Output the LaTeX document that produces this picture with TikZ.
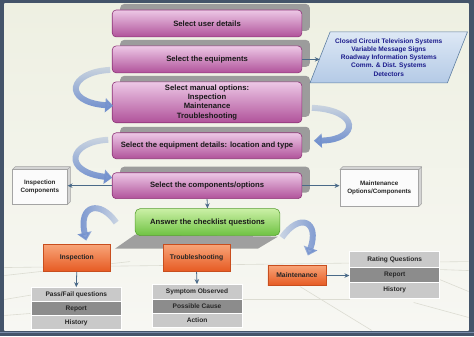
\documentclass[tikz,border=0pt]{standalone}
\usepackage{fontspec}
\setmainfont{Liberation Sans}
\usetikzlibrary{arrows.meta,shapes.geometric,shadows,fadings}
\definecolor{framec}{HTML}{44546A}
\definecolor{bandc}{HTML}{7A8CAA}
\definecolor{bgtop}{HTML}{EEF0E2}
\definecolor{bgbot}{HTML}{F7F7F3}
\definecolor{floorc}{HTML}{DCDCD2}
\definecolor{ptop}{HTML}{EDC8E6}
\definecolor{pmid}{HTML}{D58AC6}
\definecolor{pbot}{HTML}{B0529A}
\definecolor{pborder}{HTML}{8E3478}
\definecolor{tabgray}{HTML}{9C9C9C}
\definecolor{gtop}{HTML}{CBF0A6}
\definecolor{gbot}{HTML}{6EC242}
\definecolor{gborder}{HTML}{5AA034}
\definecolor{otop}{HTML}{F8A478}
\definecolor{obot}{HTML}{E65A22}
\definecolor{oborder}{HTML}{C84E1E}
\definecolor{rowlight}{HTML}{C9C9C9}
\definecolor{rowdark}{HTML}{8C8C8C}
\definecolor{arrowc}{HTML}{4A6A88}
\definecolor{curvec}{HTML}{7391CE}
\definecolor{partop}{HTML}{DDE8F5}
\definecolor{parbot}{HTML}{B4CAE6}
\definecolor{parborder}{HTML}{5F7FA2}
\definecolor{partext}{HTML}{1C1C8C}
\definecolor{boxside}{HTML}{D4D4D4}
\definecolor{boxborder}{HTML}{A4A4A4}
\tikzfading[name=fadetop, top color=transparent!70, bottom color=transparent!0]
\tikzfading[name=faderight, right color=transparent!70, left color=transparent!0]
\tikzfading[name=fadeleft, left color=transparent!70, right color=transparent!0]
\begin{document}
\begin{tikzpicture}[x=1pt,y=-1pt,
  purplebox/.style={draw=pborder, line width=0.6pt, rounded corners=4pt,
    top color=ptop, middle color=pmid, bottom color=pbot,
    minimum width=190pt, inner sep=0pt, align=center,
    font=\fontsize{7.7}{9.4}\selectfont\bfseries, text=black!90,
    drop shadow={shadow xshift=8pt, shadow yshift=6pt, opacity=1, fill=tabgray}},
  greenbox/.style={draw=gborder, line width=0.6pt, rounded corners=5pt,
    top color=gtop, bottom color=gbot, minimum width=145pt, minimum height=27pt,
    inner sep=0pt, font=\fontsize{7.7}{9}\selectfont\bfseries, text=black!90},
  orangebox/.style={draw=oborder, line width=0.6pt,
    top color=otop, bottom color=obot, minimum width=67pt, minimum height=27pt,
    inner sep=0pt, font=\fontsize{6.8}{8}\selectfont\bfseries, text=black!85},
  rowbox/.style={draw=white, line width=0.7pt, minimum width=90pt, inner sep=0pt,
    font=\fontsize{6.6}{7.5}\selectfont\bfseries, text=black!85},
  lightrow/.style={rowbox, fill=rowlight},
  darkrow/.style={rowbox, fill=rowdark},
  connector/.style={draw=arrowc, line width=0.8pt, -{Stealth[length=5pt,width=4.5pt]}},
  curvearrow/.style={draw=curvec, line width=6pt,
    -{Triangle[length=8pt,width=14pt]}},
  sidebox/.style={draw=boxborder, line width=0.5pt, fill=white!97!gray,
    inner sep=0pt, align=center, font=\fontsize{6.3}{7.8}\selectfont\bfseries, text=black!85},
  floorline/.style={draw=floorc, line width=0.6pt}
]
% frame and background
\fill[framec] (0,0) rectangle (474,337);
\shade[top color=bgtop, bottom color=bgbot] (4,4) rectangle (469,331);
\draw[bandc, line width=0.8pt] (0,332.5) -- (474,332.5);
\useasboundingbox (0,0) rectangle (474,337);
% floor lines
\draw[floorline] (4,268) -- (469,262);
\draw[floorline] (4,276) -- (130,262);
\draw[floorline] (4,300) -- (40,294);
\draw[floorline] (300,287) -- (372,331);
\draw[floorline] (414,303) -- (469,318);
\draw[floorline] (440,270) -- (469,271);
\draw[floorline] (440,280) -- (469,292);
\draw[floorline] (242,300) -- (350,300);
\draw[floorline] (4,316) -- (30,314);

% purple step boxes
\node[purplebox, minimum height=27pt] (user) at (207,23.5) {Select user details};
\node[purplebox, minimum height=27pt] (equip) at (207,59.5) {Select the equipments};
\node[purplebox, minimum height=41pt] (manual) at (207,102.5)
  {Select manual options:\\Inspection\\Maintenance\\Troubleshooting};
\node[purplebox, minimum height=26pt] (details) at (207,146)
  {Select the equipment details: location and type};
\node[purplebox, minimum height=26pt] (comps) at (207,186) {Select the components/options};

% equipment list parallelogram
\node[trapezium, trapezium left angle=64, trapezium right angle=116,
  trapezium stretches=true, minimum width=158pt, minimum height=51pt,
  draw=parborder, line width=0.6pt, top color=partop, bottom color=parbot,
  inner sep=0pt, align=center, text=partext,
  font=\fontsize{6.6}{8.2}\selectfont\bfseries] (equiplist) at (389,57.5)
  {Closed Circuit Television Systems\\Variable Message Signs\\Roadway Information Systems\\Comm. \& Dist. Systems\\Detectors};

% side 3D boxes
\fill[boxside] (12,170) -- (15,167) -- (70,167) -- (70,202) -- (67,205) -- (67,170) -- cycle;
\draw[boxborder, line width=0.5pt] (12,170) -- (15,167) -- (70,167) -- (70,202) -- (67,205) (67,170) -- (70,167);
\node[sidebox, minimum width=55pt, minimum height=35pt] (inspcomp) at (39.5,187.5)
  {Inspection\\Components};
\fill[boxside] (340,170) -- (343,167) -- (422,167) -- (422,204) -- (419,207) -- (419,170) -- cycle;
\draw[boxborder, line width=0.5pt] (340,170) -- (343,167) -- (422,167) -- (422,204) -- (419,207) (419,170) -- (422,167);
\node[sidebox, minimum width=79pt, minimum height=37pt] (maintcomp) at (379.5,188.5)
  {Maintenance\\Options/Components};

% platform under green box
\fill[gray!75] (115,249) -- (135,235) -- (278,237) -- (258,249) -- cycle;
\node[greenbox] (checklist) at (207.5,222.5) {Answer the checklist questions};

% orange boxes
\node[orangebox] (insp) at (76.5,258.5) {Inspection};
\node[orangebox] (trouble) at (196.5,258.5) {Troubleshooting};
\node[orangebox, minimum width=58pt, minimum height=20pt] (maint) at (297,276) {Maintenance};

% tables
\node[lightrow, minimum height=14pt] (i1) at (76,295) {Pass/Fail questions};
\node[darkrow, minimum height=14pt] (i2) at (76,309) {Report};
\node[lightrow, minimum height=14pt] (i3) at (76,323) {History};
\node[lightrow, minimum height=15pt] (t1) at (197,292.5) {Symptom Observed};
\node[darkrow, minimum height=14pt] (t2) at (197,307) {Possible Cause};
\node[lightrow, minimum height=14pt] (t3) at (197,321) {Action};
\node[lightrow, minimum height=15.5pt] (m1) at (395,259.75) {Rating Questions};
\node[darkrow, minimum height=15.5pt] (m2) at (395,275.25) {Report};
\node[lightrow, minimum height=15.5pt] (m3) at (395,290.75) {History};

% straight connectors
\draw[connector] (equip.east) -- (equip.east -| equiplist.west);
\draw[connector] (comps.west) -- (comps.west -| inspcomp.east);
\draw[connector] (comps.east) -- (comps.east -| maintcomp.west);
\draw[connector] (comps.south) -- (checklist.north);
\draw[connector] (insp.south) -- (i1.north);
\draw[connector] (trouble.south) -- (t1.north);
\draw[connector] (maint.east) -- (maint.east -| m2.west);

% curved ribbon arrows
\draw[curvearrow, path fading=fadetop] (110,70) .. controls (68,72) and (62,102) .. (113,106);
\draw[curvearrow, path fading=fadetop] (312,108) .. controls (360,110) and (360,140) .. (314,141);
\draw[curvearrow, path fading=fadetop] (108,140) .. controls (68,142) and (62,172) .. (112,178);
\draw[curvearrow, path fading=faderight] (116,223) .. controls (100,200) and (78,205) .. (86,241);
\draw[curvearrow, path fading=fadeleft] (282,238) .. controls (300,212) and (320,222) .. (308,256);
\end{tikzpicture}
\end{document}
